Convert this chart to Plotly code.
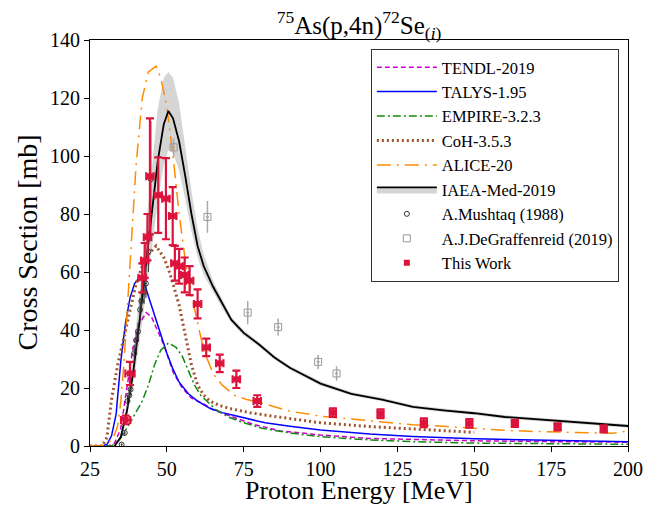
import plotly.graph_objects as go

# ---------------- data ----------------
tendl_E = [25, 31, 33, 35, 37, 39, 41, 43.3, 45, 47, 49, 52, 55, 58, 62, 65, 70, 78, 87, 100, 116, 150, 175, 200]
tendl_s = [0, 0, 1, 6, 20, 34, 42, 46, 44.5, 40, 35, 25.5, 20, 16.5, 14.5, 12.5, 10.5, 7.5, 5.2, 3.8, 2.6, 1.8, 1.5, 1.3]

talys_E = [25, 29, 30.5, 32, 33.5, 35, 36.5, 38, 39.5, 41, 42, 43, 44.5, 46.5, 48, 50, 52, 54, 57, 60, 64, 68, 72, 76, 82, 90, 100, 116, 130, 150, 175, 200]
talys_s = [0, 0, 0.5, 3.5, 11, 29, 42, 51, 56, 58, 57.5, 55, 50, 43.5, 38, 32, 26.5, 22, 18, 15.5, 13, 11.5, 10.5, 9.5, 8, 6.8, 5.5, 4.1, 3.3, 2.5, 2.0, 1.5]

empire_E = [25, 32, 34, 36, 38, 40, 42, 44, 46, 48, 50.5, 53, 55, 57, 59, 61, 63, 66, 70, 75, 81, 90, 100, 116, 130, 150, 175, 200]
empire_s = [0, 0, 1.5, 4.5, 8, 11.5, 15.5, 21, 28, 33, 35.5, 34, 31, 26, 21, 17.5, 15.5, 12.5, 10, 8, 6.1, 4.5, 3.2, 2.1, 1.5, 1.0, 0.8, 0.6]

coh_E = [25, 29, 30.5, 32, 34, 36, 38, 40, 42, 44, 46.5, 49, 50.5, 52, 54, 56, 58, 60, 62, 64, 67, 71, 77, 85, 100, 116, 130, 150]
coh_s = [0, 0, 3, 16, 28, 37, 47, 56, 62, 66, 69, 65, 61, 56, 48.5, 38, 28, 21, 17.5, 15.5, 14, 12.8, 11.5, 10.2, 8, 6.7, 5.8, 4.7]

alice_E = [25, 28, 30, 32, 33, 34, 35, 36, 37, 38, 39, 40, 42, 44, 46.5, 48, 50, 52, 54, 56, 58, 60, 62, 65, 68, 72, 76, 82, 90, 100, 110, 120, 130, 140, 150, 160, 170, 180, 190, 195, 200]
alice_s = [0, 0, 0.5, 2, 4, 7, 15, 28, 45, 62, 80, 97, 120, 129, 131, 127, 117, 100, 80, 64, 52, 42, 33, 25, 21, 17.5, 16, 14.5, 12, 10.3, 9.3, 8.3, 7.3, 6.8, 6.0, 5.4, 5.0, 4.7, 4.4, 4.4, 5.2]

iaea_E = [33, 35, 37, 39, 41, 43, 45, 47, 49, 50.5, 52, 54, 56, 58, 60, 62, 65, 68, 71, 75, 80, 85, 90, 100, 110, 120, 130, 140, 150, 160, 170, 180, 190, 200]
iaea_s = [0, 3, 12, 25, 42, 60, 80, 98, 111, 115.5, 113, 105, 93, 80, 69, 62, 55, 49, 43.5, 39, 35, 30.5, 27, 21.5, 18, 16, 13.5, 12.3, 11.3, 10, 9.2, 8.4, 7.6, 6.9]
iaea_hi = [0.5, 4, 15, 31, 52, 74, 96, 116, 127, 129, 127, 118, 103, 88, 75, 66, 57, 50.5, 44.5, 40, 35.8, 31.2, 27.7, 22.2, 18.6, 16.6, 14.1, 12.9, 11.9, 10.6, 9.8, 9.0, 8.2, 7.5]
iaea_lo = [0, 2, 10, 21, 35, 50, 67, 84, 97, 102, 101, 95, 85, 74, 65, 59, 53, 47.5, 42.5, 38, 34.2, 29.8, 26.3, 20.8, 17.4, 15.4, 12.9, 11.7, 10.7, 9.4, 8.6, 7.8, 7.0, 6.3]

mush_E = [35.3, 36.3, 37.2, 37.8, 38.2, 39.4, 40.0, 40.6, 41.3, 41.7, 42.6, 43.2, 44.0, 44.8]
mush_s = [0.5, 4.5, 15.5, 17.5, 19.5, 32, 36.5, 39.5, 47, 50, 53, 56, 67, 92]
mush_ds = [0.5, 1, 2, 2, 2, 3, 3, 3, 4, 4, 4, 5, 7, 20]
mush_dE = [0.3, 0.3, 0.3, 0.3, 0.3, 0.3, 0.3, 0.3, 0.3, 0.3, 0.3, 0.3, 0.3, 0.3]

degr_E = [52.2, 63.2, 76.3, 86.2, 99.2, 105.2]
degr_s = [103, 79, 46, 41, 29, 25]
degr_ds = [3, 5.5, 4, 3, 2.5, 2.5]
degr_dE = [0.5, 0.5, 0.5, 0.5, 0.5, 0.5]

tw_E = [36.6, 38.0, 42.0, 42.8, 43.7, 44.5, 47.2, 49.7, 51.9, 52.6, 54.0, 55.8, 57.4, 60.0, 62.8, 67.2, 72.6, 79.4, 104, 119.5, 133.6, 148.4, 163.2, 177.1, 192.1]
tw_s = [9.0, 25.0, 58, 64, 72, 93, 86.5, 85.3, 79.3, 63, 62, 59, 57, 49, 34, 28.5, 23, 15.5, 11.5, 11.1, 8.0, 7.8, 7.8, 6.6, 5.9]
tw_ds = [1.5, 4, 5, 6, 8, 20, 13, 14, 10, 6, 6, 6, 5, 5, 3, 3, 3, 2, 1.5, 1.5, 1.5, 1.5, 1.2, 1.2, 1.2]
tw_dE = [1.5, 1.5, 1.2, 1.2, 1.2, 1.2, 1.2, 1.2, 1.2, 1.2, 1.2, 1.2, 1.2, 1.2, 1.2, 1.2, 1.2, 1.2, 1.0, 1.0, 1.0, 1.0, 1.0, 1.0, 1.0]

x_ticks = [25, 50, 75, 100, 125, 150, 175, 200]
y_ticks = [0, 20, 40, 60, 80, 100, 120, 140]

title_text = "<sup>75</sup>As(p,4n)<sup>72</sup>Se<sub>(<i>i</i>)</sub>"
x_title = "Proton Energy [MeV]"
y_title = "Cross Section [mb]"

FONT = "Liberation Serif"

fig = go.Figure()

# IAEA band (no legend)
fig.add_trace(go.Scatter(x=iaea_E + iaea_E[::-1], y=iaea_hi + iaea_lo[::-1], fill="toself",
                         fillcolor="rgba(190,190,190,0.65)", line=dict(width=0), mode="lines",
                         showlegend=False, hoverinfo="skip"))

fig.add_trace(go.Scatter(x=tendl_E, y=tendl_s, mode="lines", name="TENDL-2019",
                         line=dict(color="#cc00cc", width=1.5, dash="5px,3px")))
fig.add_trace(go.Scatter(x=talys_E, y=talys_s, mode="lines", name="TALYS-1.95",
                         line=dict(color="#0000ff", width=1.5)))
fig.add_trace(go.Scatter(x=empire_E, y=empire_s, mode="lines", name="EMPIRE-3.2.3",
                         line=dict(color="#118811", width=1.5, dash="8px,3px,2px,3px")))
fig.add_trace(go.Scatter(x=coh_E, y=coh_s, mode="lines", name="CoH-3.5.3",
                         line=dict(color="#a0522d", width=3, dash="2px,3px")))
fig.add_trace(go.Scatter(x=alice_E, y=alice_s, mode="lines", name="ALICE-20",
                         line=dict(color="#ff8c00", width=1.5, dash="14px,6px,2px,6px")))
# IAEA black line
fig.add_trace(go.Scatter(x=iaea_E, y=iaea_s, mode="lines", name="IAEA-Med-2019",
                         line=dict(color="black", width=1.8), showlegend=False))
# legend-only entry for IAEA (band + line)
fig.add_trace(go.Scatter(x=[None], y=[None], mode="lines", name="IAEA-Med-2019", fill="toself",
                         fillcolor="rgba(190,190,190,0.65)", line=dict(color="black", width=1.8)))

fig.add_trace(go.Scatter(x=mush_E, y=mush_s, mode="markers", name="A.Mushtaq (1988)",
                         marker=dict(symbol="circle-open", size=5, color="#333333", line=dict(width=1)),
                         error_y=dict(type="data", array=mush_ds, color="#333333", thickness=1, width=0),
                         error_x=dict(type="data", array=mush_dE, color="#333333", thickness=1, width=0)))
fig.add_trace(go.Scatter(x=degr_E, y=degr_s, mode="markers", name="A.J.DeGraffenreid (2019)",
                         marker=dict(symbol="square-open", size=7, color="#999999", line=dict(width=1)),
                         error_y=dict(type="data", array=degr_ds, color="#aaaaaa", thickness=1.5, width=0),
                         error_x=dict(type="data", array=degr_dE, color="#aaaaaa", thickness=1.5, width=0)))
fig.add_trace(go.Scatter(x=tw_E, y=tw_s, mode="markers", name="This Work",
                         marker=dict(symbol="square", size=6, color="#dc143c"),
                         error_y=dict(type="data", array=tw_ds, color="#dc143c", thickness=2.2, width=4),
                         error_x=dict(type="data", array=tw_dE, color="#dc143c", thickness=2.2, width=4)))

axis_common = dict(showgrid=False, zeroline=False, showline=True, linecolor="black", linewidth=1,
                   mirror=True, ticks="outside", ticklen=5, tickcolor="black", automargin=False,
                   tickfont=dict(family=FONT, size=20, color="black"))

fig.update_layout(
    width=651, height=498,
    margin=dict(l=82, r=31, t=32, b=60),
    paper_bgcolor="white", plot_bgcolor="white",
    font=dict(family=FONT, color="black"),
    title=dict(text=title_text, x=0.5, xref="paper", xanchor="center",
               yref="container", y=0.966, yanchor="middle",
               font=dict(family=FONT, size=25, color="black")),
    xaxis=dict(range=[25, 200], tickvals=x_ticks, **axis_common),
    yaxis=dict(range=[0, 140], tickvals=y_ticks, **axis_common),
    legend=dict(x=0.983, y=0.978, xanchor="right", yanchor="top",
                bgcolor="white", bordercolor="#333333", borderwidth=1,
                font=dict(family=FONT, size=16.5, color="black"), itemwidth=60,
                tracegroupgap=0),
    showlegend=True,
    annotations=[
        dict(text=x_title, xref="paper", yref="paper", x=0.5, y=-0.1478, xanchor="center",
             yanchor="bottom", showarrow=False, borderpad=0,
             font=dict(family=FONT, size=26, color="black")),
        dict(text=y_title, xref="paper", yref="paper", x=-0.118, y=0.5, xanchor="center",
             yanchor="middle", textangle=-90, showarrow=False,
             font=dict(family=FONT, size=28, color="black")),
    ],
)

fig.write_html("out.html")
